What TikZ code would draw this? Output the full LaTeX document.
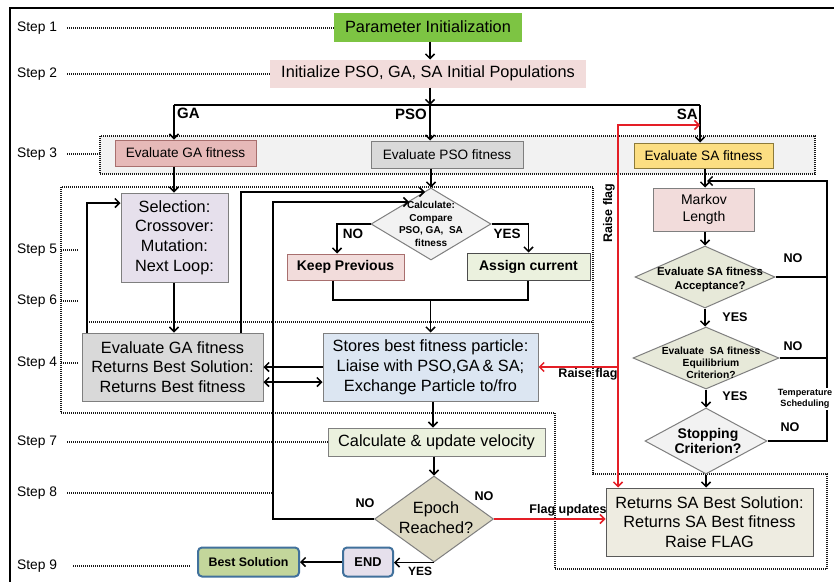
\documentclass[tikz,border=0pt]{standalone}
\usepackage{fontspec}
\setmainfont{Liberation Sans}
\usetikzlibrary{shapes.geometric,arrows.meta}
\definecolor{bgrey}{HTML}{7F7F7F}
\definecolor{pgreen}{HTML}{7DC443}
\definecolor{pinkf}{HTML}{F2DCDB}
\definecolor{gaevf}{HTML}{E6B9B8}
\definecolor{gaevd}{HTML}{A86F6E}
\definecolor{greyf}{HTML}{D9D9D9}
\definecolor{sayel}{HTML}{FCDE82}
\definecolor{sayeld}{HTML}{8C7A3A}
\definecolor{lavf}{HTML}{E6E0EC}
\definecolor{lgreen}{HTML}{EBF1DE}
\definecolor{lblue}{HTML}{DCE6F2}
\definecolor{tanf}{HTML}{DDD9C3}
\definecolor{olivef}{HTML}{EEECE1}
\definecolor{accf}{HTML}{E7E9D9}
\definecolor{s3fill}{HTML}{F2F2F2}
\definecolor{bluebd}{HTML}{41719C}
\definecolor{bestg}{HTML}{C3D69B}
\definecolor{redc}{HTML}{E41E26}
\begin{document}
\begin{tikzpicture}[x=1pt,y=-1pt,
  box/.style={draw=bgrey, line width=1pt, inner sep=0pt, align=center},
  dia/.style={diamond, draw=bgrey, line width=1pt, inner sep=0pt},
  arr/.style={line width=1.5pt, -{Straight Barb[length=4.5pt,width=9pt]}},
  darr/.style={line width=1.5pt, {Straight Barb[length=4.5pt,width=9pt]}-{Straight Barb[length=4.5pt,width=9pt]}},
  ln/.style={line width=1.5pt},
  rarr/.style={line width=1.5pt, draw=redc, -{Straight Barb[length=4.5pt,width=9pt]}},
  dots/.style={line width=1.2pt, dash pattern=on 1pt off 1pt, draw=black!90},
  steplbl/.style={anchor=west, inner sep=0pt, font=\fontsize{13.8}{16}\selectfont},
  big/.style={font=\fontsize{16.3}{19.8}\selectfont},
  mid/.style={font=\fontsize{13.6}{16}\selectfont},
  bl/.style={font=\bfseries\fontsize{13.5}{16}\selectfont, inner sep=0pt},
  bls/.style={font=\bfseries\fontsize{12.6}{15}\selectfont, inner sep=0pt}
]
\clip (0,0) rectangle (834,581);
\fill[white] (0,0) rectangle (834,581);
\draw[line width=2.5pt] (10,8) rectangle (860,610);

% dotted regions
\node[dots, fill=s3fill, minimum width=715pt, minimum height=38pt, inner sep=0pt] (s3box) at (457.5,155) {};
\draw[dots] (593,187) -- (61,187) -- (61,413) -- (555,413) -- (555,569) -- (827,569) -- (827,474) -- (593,474) -- cycle;
\draw[dots] (87,322) -- (593,322);

% step labels
\node[steplbl] (s1) at (17,28) {Step 1};
\node[steplbl] (s2) at (17,74) {Step 2};
\node[steplbl] (s3) at (17,154) {Step 3};
\node[steplbl] (s5) at (17,250) {Step 5};
\node[steplbl] (s6) at (17,301) {Step 6};
\node[steplbl] (s4) at (17,363) {Step 4};
\node[steplbl] (s7) at (17,442) {Step 7};
\node[steplbl] (s8) at (17,493) {Step 8};
\node[steplbl] (s9) at (17,566) {Step 9};

% main nodes
\node[box, fill=pgreen, draw=pgreen, minimum width=187pt, minimum height=28pt, big] (param) at (428,27) {Parameter Initialization};
\node[box, fill=pinkf, draw=pinkf, minimum width=315pt, minimum height=27pt, big] (init) at (428,73.5) {Initialize PSO, GA, SA Initial Populations};
\node[box, fill=gaevf, draw=gaevd, minimum width=141pt, minimum height=26pt, mid] (evalGA) at (185.5,153) {Evaluate GA fitness};
\node[box, fill=greyf, minimum width=152pt, minimum height=27pt, mid] (evalPSO) at (447,154.5) {Evaluate PSO fitness};
\node[box, fill=sayel, draw=sayeld, minimum width=139pt, minimum height=25pt, mid] (evalSA) at (703.5,155.5) {Evaluate SA fitness};

\node[box, fill=lavf, minimum width=107pt, minimum height=89pt, big] (sel) at (174.5,237.5) {Selection:\\Crossover:\\Mutation:\\Next Loop:};
\node[box, fill=greyf, minimum width=181pt, minimum height=68pt, big] (gaev) at (172.5,367) {Evaluate GA fitness\\Returns Best Solution:\\Returns Best fitness};

\node[dia, fill=s3fill, minimum width=120pt, minimum height=72pt] (cmp) at (431,224) {};
\node[align=center, inner sep=0pt, font=\bfseries\fontsize{10}{12.5}\selectfont] (cmpT) at (431,224) {Calculate:\\Compare\\PSO, GA,\ \ SA\\fitness};
\node[box, fill=pinkf, draw=gaevd, minimum width=117pt, minimum height=26pt, font=\bfseries\fontsize{14}{16}\selectfont] (keep) at (345.5,267) {Keep Previous};
\node[box, fill=lgreen, draw=black!70, minimum width=123pt, minimum height=27pt, font=\bfseries\fontsize{14}{16}\selectfont] (assign) at (528.5,266.5) {Assign current};

\node[box, fill=lblue, minimum width=215pt, minimum height=68pt, big] (stores) at (430.5,367) {Stores best fitness particle:\\Liaise with PSO,GA\,\& SA;\\Exchange Particle to/fro};
\node[box, fill=lgreen, minimum width=217pt, minimum height=28pt, big] (calcvel) at (436.5,442) {Calculate \& update velocity};
\node[dia, fill=tanf, minimum width=119pt, minimum height=86pt] (epoch) at (434,519) {};
\node[align=center, inner sep=0pt, big] (epochT) at (436,518) {Epoch\\Reached?};
\node[box, rounded corners=4pt, draw=bluebd, line width=2pt, fill=lavf, minimum width=50pt, minimum height=29pt, font=\bfseries\fontsize{12.8}{15}\selectfont] (endn) at (368,562) {END};
\node[box, rounded corners=4pt, draw=bluebd, line width=2pt, fill=bestg, minimum width=101pt, minimum height=29pt, font=\bfseries\fontsize{12.4}{15}\selectfont] (best) at (248.5,562) {Best Solution};

\node[box, fill=pinkf, minimum width=101pt, minimum height=43pt, font=\fontsize{14}{16.5}\selectfont] (markov) at (704,209.5) {Markov\\Length};
\node[dia, fill=accf, minimum width=140pt, minimum height=62pt] (acc) at (705,277) {};
\node[align=center, inner sep=0pt, font=\bfseries\fontsize{11.4}{14}\selectfont] (accT) at (710,280) {Evaluate SA fitness\\Acceptance?};
\node[dia, fill=accf, minimum width=146pt, minimum height=62pt] (equ) at (706,358) {};
\node[align=center, inner sep=0pt, font=\bfseries\fontsize{10.3}{11.7}\selectfont] (equT) at (711,363) {Evaluate\ \ SA fitness\\Equilibrium\\Criterion?};
\node[dia, fill=s3fill, minimum width=122pt, minimum height=66pt] (stop) at (706,441) {};
\node[align=center, inner sep=0pt, font=\bfseries\fontsize{14}{15.5}\selectfont] (stopT) at (708,441) {Stopping\\Criterion?};
\node[box, fill=olivef, draw=black!65, minimum width=207pt, minimum height=68pt, big] (ret) at (709.5,522) {Returns SA Best Solution:\\Returns SA Best fitness\\Raise FLAG};

% leaders
\draw[dots] ([xshift=10pt]s1.east) -- (s1.east -| param.west);
\draw[dots] ([xshift=10pt]s2.east) -- (s2.east -| init.west);
\draw[dots] ([xshift=10pt]s3.east) -- (s3.east -| s3box.west);
\draw[dots] ([xshift=4pt]s5.east) -- ([xshift=22pt]s5.east);
\draw[dots] ([xshift=4pt]s6.east) -- ([xshift=22pt]s6.east);
\draw[dots] ([xshift=4pt]s4.east) -- ([xshift=22pt]s4.east);
\draw[dots] ([xshift=10pt]s7.east) -- (s7.east -| calcvel.west);

% coordinates
\coordinate (brL) at (174,105);
\coordinate (brM) at (430,105);
\coordinate (brR) at (700,105);
\coordinate (l1) at (87,203);
\coordinate (l2) at (241,192);
\coordinate (l2e) at (425,192);
\coordinate (l3) at (273,202);
\coordinate (l3e) at (409,202);
\coordinate (noX) at (337,224);
\coordinate (m1) at (333,300);
\coordinate (m2) at (528,300);
\coordinate (h1) at (300,367);
\coordinate (h2) at (300,382);
\coordinate (cX) at (433,420);
\coordinate (lpR) at (827,181);
\coordinate (lpE) at (707,181);
\coordinate (rj) at (618,367);
\coordinate (rt) at (618,125);
\coordinate (rtE) at (700,125);

\draw[dots] ([xshift=10pt]s8.east) -- (s8.east -| l3);
\draw[dots] ([xshift=16pt]s9.east) -- ([xshift=-7pt]s9.east -| best.west);

% connectors
\draw[arr] (param.south -| brM) -- (init.north -| brM);
\draw[arr] (init.south -| brM) -- (brM);
\draw[ln] (brL) -- (brR);
\draw[arr] (brL) -- (evalGA.north -| brL);
\draw[arr] (brM) -- (evalPSO.north -| brM);
\draw[arr] (brR) -- (evalSA.north -| brR);

\draw[arr] (evalGA.south -| brL) -- (sel.north -| brL);
\draw[arr] (sel.south -| brL) -- (gaev.north -| brL);
\draw[arr] (gaev.north -| l1) -- (l1) -- (sel.west |- l1);
\draw[arr] (gaev.north -| l2) -- (l2) -- (l2e);
\draw[arr] (epoch.west) -| (l3) -- (l3e);

\draw[arr] (evalPSO.south -| cmp.north) -- (cmp.north);
\draw[arr] (cmp.west) -| (keep.north -| noX);
\draw[arr] (cmp.east) -| (assign.north);
\draw[ln] (keep.south -| m1) -- (m1) -- (m2) -- (assign.south -| m2);
\draw[arr] (stores.north |- m1) -- (stores.north);
\draw[arr] (stores.west |- h1) -- (gaev.east |- h1);
\draw[darr] (gaev.east |- h2) -- (stores.west |- h2);
\draw[arr] (stores.south -| cX) -- (calcvel.north -| cX);
\draw[arr] (calcvel.south -| epoch.north) -- (epoch.north);
\draw[arr] (epoch.south) -- (endn.east |- epoch.south);
\draw[arr] (endn.west) -- (best.east);
\draw[rarr] (epoch.east) -- (ret.west |- epoch.east);

\draw[arr] (evalSA.south -| acc.north) -- (markov.north -| acc.north);
\draw[arr] (markov.south -| acc.north) -- (acc.north);
\draw[arr] (acc.south) -- (equ.north -| acc.south);
\draw[arr] (equ.south) -- (stop.north -| equ.south);
\draw[arr] (stop.south) -- (ret.north -| stop.south);
\draw[arr] (stop.east) -| (lpR) -- (lpE);
\draw[ln] (acc.east) -- (acc.east -| lpR);
\draw[ln] (equ.east) -- (equ.east -| lpR);

\draw[rarr] (rj) -- (rt) -- (rtE);
\draw[rarr] (rj) -- (ret.north -| rj);
\draw[rarr] (rj) -- (stores.east |- rj);

% labels
\node[anchor=west, font=\bfseries\fontsize{15}{18}\selectfont, inner sep=0pt] (lGA) at (177,113) {GA};
\node[anchor=east, font=\bfseries\fontsize{15}{18}\selectfont, inner sep=0pt] (lPSO) at (427,114) {PSO};
\node[anchor=east, font=\bfseries\fontsize{15}{18}\selectfont, inner sep=0pt] (lSA) at (698,114) {SA};
\node[bl] (no1) at (353,234) {NO};
\node[bl] (yes1) at (507,234) {YES};
\node[bls] (no2) at (793,258) {NO};
\node[bls] (yes2) at (735,317) {YES};
\node[bls] (no3) at (793,346) {NO};
\node[bls] (yes3) at (735,396) {YES};
\node[bls] (no4) at (790,427) {NO};
\node[bls] (no5) at (365,503) {NO};
\node[bls] (no6) at (484,496) {NO};
\node[font=\bfseries\fontsize{12}{14}\selectfont, inner sep=0pt] (yes5) at (420,571) {YES};
\node[fill=white, inner sep=1pt, align=center, font=\bfseries\fontsize{9.1}{11}\selectfont] (temp) at (805,399) {Temperature\\Scheduling};
\node[font=\bfseries\fontsize{12.5}{14}\selectfont, rotate=90, inner sep=0pt] (rf1) at (609,213) {Raise flag};
\node[font=\bfseries\fontsize{12.5}{14}\selectfont, inner sep=0pt] (rf2) at (588,374) {Raise flag};
\node[font=\bfseries\fontsize{12.5}{14}\selectfont, inner sep=0pt] (fu) at (568,510) {Flag updates};
\end{tikzpicture}
\end{document}
